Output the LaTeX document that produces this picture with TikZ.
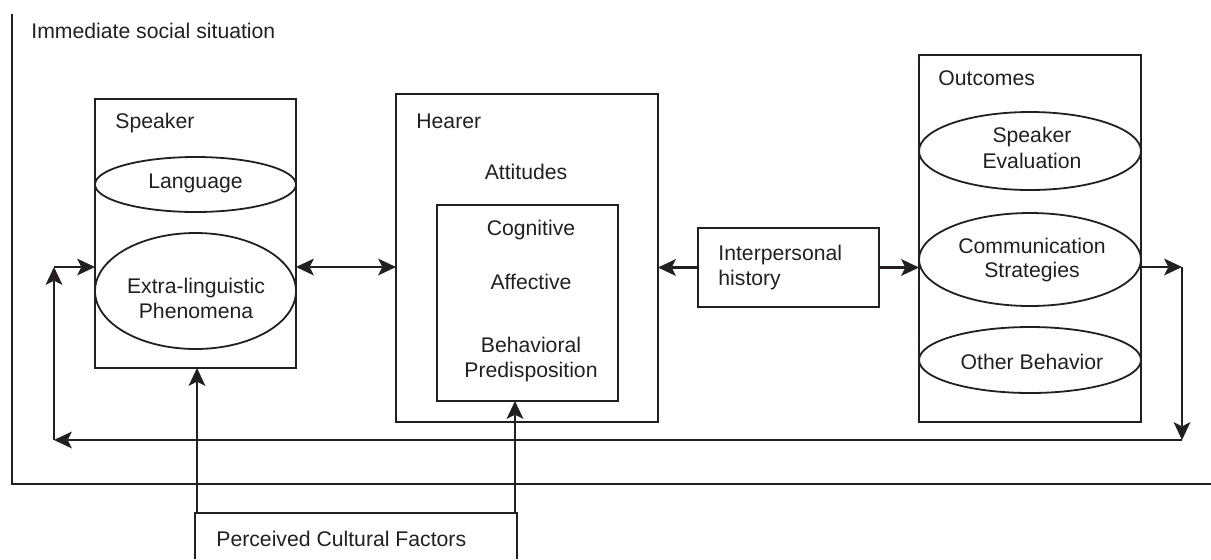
\documentclass[tikz,border=0pt]{standalone}
\usepackage{fontspec}
\setmainfont{Liberation Sans}
\usetikzlibrary{arrows.meta,shapes.geometric}
\definecolor{ink}{RGB}{35,31,32}
\begin{document}
\begin{tikzpicture}[x=0.5pt,y=-0.5pt,
  font=\fontsize{10.6pt}{12.5pt}\selectfont,
  frame/.style={draw=ink, line width=0.9pt, inner sep=0pt, outer sep=0pt},
  boxnode/.style={frame, rectangle},
  ellnode/.style={frame, ellipse},
  lbl/.style={inner sep=0pt, anchor=base, text=ink},
  lblw/.style={inner sep=0pt, anchor=base west, text=ink},
  tip/.tip={Stealth[length=9pt,width=8.5pt,inset=2.2pt,line width=0pt]},
  arr/.style={line width=1.35pt, draw=ink, -tip},
  darr/.style={line width=1.35pt, draw=ink, tip-tip},
]
\useasboundingbox (0,0) rectangle (1211,559);

% outer frame (immediate social situation)
\coordinate (ftop) at (12,14);
\coordinate (fcorner) at (12,484);
\coordinate (fend) at (1211,484);
\draw[draw=ink, line width=0.9pt] (ftop) -- (fcorner) -- (fend);
\node[lblw] (title) at (31,38) {Immediate social situation};

% speaker
\node[boxnode, minimum width=100.5pt, minimum height=134.5pt] (spk) at (195.5,233.5) {};
\node[ellnode, minimum width=100.5pt, minimum height=27.5pt] (lang) at (195.5,184.5) {};
\node[ellnode, minimum width=100.5pt, minimum height=58pt] (extra) at (195.5,291) {};
\node[lblw] (spkt) at (115,128) {Speaker};
\node[lbl] (langt) at (195.5,188) {Language};
\node[lbl] (extrat1) at (196,293) {Extra-linguistic};
\node[lbl] (extrat2) at (196,318) {Phenomena};

% hearer
\node[boxnode, minimum width=131pt, minimum height=164pt] (hear) at (527,258) {};
\node[boxnode, minimum width=90.5pt, minimum height=98pt] (att) at (527.5,303) {};
\node[lblw] (heart) at (416,128) {Hearer};
\node[lbl] (attt) at (526,179) {Attitudes};
\node[lbl] (cog) at (531,235) {Cognitive};
\node[lbl] (aff) at (531,289) {Affective};
\node[lbl] (beh1) at (531,352) {Behavioral};
\node[lbl] (beh2) at (531,377) {Predisposition};

% interpersonal history
\node[boxnode, minimum width=90.5pt, minimum height=39.5pt] (ih) at (788.5,267.5) {};
\node[lblw] (iht1) at (718,260) {Interpersonal};
\node[lblw] (iht2) at (718,285) {history};

% outcomes
\node[boxnode, minimum width=111pt, minimum height=183.5pt] (out) at (1030,238.5) {};
\node[ellnode, minimum width=111pt, minimum height=39pt] (se) at (1030,151) {};
\node[ellnode, minimum width=111pt, minimum height=46.5pt] (cs) at (1030,259.5) {};
\node[ellnode, minimum width=111pt, minimum height=33pt] (ob) at (1030,360) {};
\node[lblw] (outt) at (938,85) {Outcomes};
\node[lbl] (se1) at (1032,142) {Speaker};
\node[lbl] (se2) at (1032,168) {Evaluation};
\node[lbl] (cs1) at (1032,253) {Communication};
\node[lbl] (cs2) at (1032,277) {Strategies};
\node[lbl] (obt) at (1032,369) {Other Behavior};

% perceived cultural factors (open at the bottom)
\node[inner sep=0pt, outer sep=0pt, minimum width=161pt, minimum height=23pt] (pcf) at (356,536) {};
\draw[draw=ink, line width=0.9pt] (pcf.south west) -- (pcf.north west) -- (pcf.north east) -- (pcf.south east);
\node[lblw] (pcft) at (216,546) {Perceived Cultural Factors};

% connectors
\coordinate (row) at (0,267);
\draw[darr] (spk.east |- row) -- (hear.west |- row);
\draw[arr] (ih.west) -- (hear.east |- ih.west);
\draw[arr] (ih.east) -- (out.west |- ih.east);

\coordinate (fbR) at (1182,267);
\coordinate (fbRB) at (1182,440);
\coordinate (fbLB) at (54,440);
\coordinate (fbL) at (54,267);
\draw[arr] (out.east |- fbR) -- (fbR);
\draw[arr] (fbR) -- (fbRB);
\draw[arr] (fbRB) -- (fbLB);
\draw[arr] (fbLB) -- (fbL);
\draw[arr] (fbL) -- (spk.west |- fbL);

\draw[arr] ([xshift=1pt]pcf.north west) -- ([xshift=1pt]pcf.north west |- spk.south);
\draw[arr] ([xshift=-1pt]pcf.north east) -- ([xshift=-1pt]pcf.north east |- att.south);
\end{tikzpicture}
\end{document}
